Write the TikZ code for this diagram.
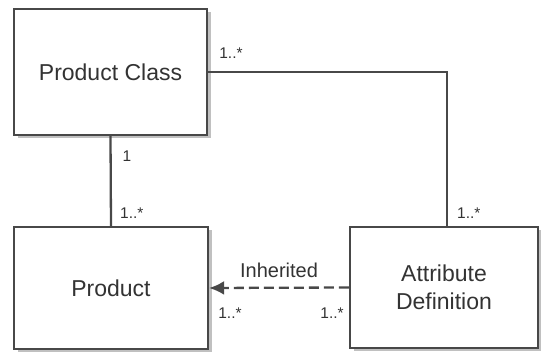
\documentclass[tikz,border=0pt]{standalone}
\usepackage{fontspec}
\setmainfont{Liberation Sans}
\usetikzlibrary{calc,arrows.meta,shadows}
\definecolor{line_gray}{HTML}{484848}
\definecolor{text_gray}{HTML}{333333}

\begin{document}
\begin{tikzpicture}[x=1pt,y=-1pt,>={Latex[length=15pt,width=14pt]},
    box/.style={draw=line_gray, line width=2.3pt, fill=white, text=text_gray,
        align=center, inner sep=0pt, font=\fontsize{23}{28}\selectfont,
        drop shadow={shadow xshift=3.5pt, shadow yshift=-3.5pt, fill=gray!55, opacity=0.9}},
    mult/.style={text=text_gray, inner sep=0pt, font=\fontsize{15.5}{18}\selectfont},
    link/.style={draw=line_gray, line width=2.3pt}]

    \useasboundingbox (0,0) rectangle (541,352);

    % Les trois classes
    \node[box, minimum width=193pt, minimum height=126pt] (pclass) at (110.5,72) {Product Class};
    \node[box, minimum width=194pt, minimum height=122pt] (product) at (111,288) {Product};
    \node[box, minimum width=188pt, minimum height=121pt] (attr) at (444,287.5) {Attribute\\Definition};

    % Associations
    \coordinate (corner) at (447,72);
    \draw[link] (pclass.east) -- (corner) -- (corner |- attr.north);
    \draw[link] (pclass.south) -- (product.north);
    \draw[link, dash pattern=on 10pt off 5pt, ->] (attr.west) -- (product.east)
        node[midway, above=6pt, text=text_gray, font=\fontsize{20}{24}\selectfont] (inh) {Inherited};

    % Multiplicites
    \node[mult, anchor=south west] (m1) at ($(pclass.east)+(11,-13)$) {1..*};
    \node[mult, anchor=north west] (m2) at ($(pclass.south)+(12,14)$) {1};
    \node[mult, anchor=south west] (m3) at ($(product.north)+(9,-7)$) {1..*};
    \node[mult, anchor=south west] (m4) at ($(corner |- attr.north)+(10,-7)$) {1..*};
    \node[mult, anchor=north west] (m5) at ($(product.east)+(9,20)$) {1..*};
    \node[mult, anchor=north east] (m6) at ($(attr.west)+(-5,20)$) {1..*};
\end{tikzpicture}
\end{document}
